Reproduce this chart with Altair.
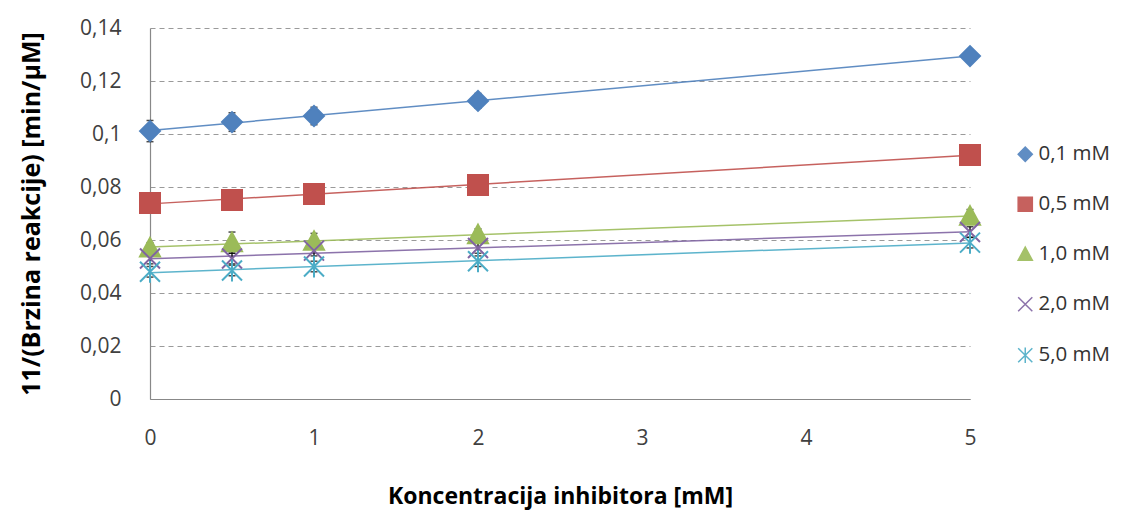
import altair as alt
import pandas as pd

# ---- data ----
x_vals = [0, 0.5, 1, 2, 5]
series_names = ["0,1 mM", "0,5 mM", "1,0 mM", "2,0 mM", "5,0 mM"]

y_01 = [0.1011, 0.1045, 0.1068, 0.1125, 0.1294]
y_05 = [0.0740, 0.0751, 0.0774, 0.0808, 0.0921]
y_10 = [0.0570, 0.0590, 0.0595, 0.0620, 0.0690]
y_20 = [0.0530, 0.0530, 0.0560, 0.0570, 0.0630]
y_50 = [0.0480, 0.0485, 0.0500, 0.0520, 0.0590]

e_01 = [0.0040, 0.0035, 0.0033, 0.0028, 0.0010]
e_05 = [0.0010, 0.0010, 0.0010, 0.0010, 0.0010]
e_10 = [0.0020, 0.0040, 0.0030, 0.0022, 0.0025]
e_20 = [0.0020, 0.0020, 0.0020, 0.0020, 0.0020]
e_50 = [0.0020, 0.0020, 0.0020, 0.0020, 0.0020]

x_ticks = [0, 1, 2, 3, 4, 5]
y_ticks = [0, 0.02, 0.04, 0.06, 0.08, 0.10, 0.12, 0.14]

colors = ["#4F81BD", "#C0504D", "#9BBB59", "#8064A2", "#4BACC6"]
shapes = ["diamond", "square", "M0,-1L1,0.85L-1,0.85Z",
          "M-1,-1L1,1M1,-1L-1,1",
          "M-1,-1L1,1M1,-1L-1,1M0,-1.1L0,1.1"]

x_title = "Koncentracija inhibitora [mM]"
y_title = "11/(Brzina reakcije) [min/µM]"

rows = []
for name, ys, es in zip(series_names, [y_01, y_05, y_10, y_20, y_50],
                        [e_01, e_05, e_10, e_20, e_50]):
    for xv, yv, ev in zip(x_vals, ys, es):
        rows.append({"series": name, "x": xv, "y": yv, "lo": yv - ev, "hi": yv + ev})
df = pd.DataFrame(rows)

FONT = "Open Sans"

xscale = alt.Scale(domain=[0, 5], nice=False, zero=False)
yscale = alt.Scale(domain=[0, 0.14], nice=False)
col_scale = alt.Scale(domain=series_names, range=colors)
shp_scale = alt.Scale(domain=series_names, range=shapes)

x_axis = alt.Axis(values=x_ticks, title=x_title, grid=False, ticks=False, labelFlush=False,
                  labelPadding=28, titlePadding=37, titleFontSize=23, format="d")
y_axis = alt.Axis(values=y_ticks, title=y_title, grid=True, ticks=False,
                  labelPadding=29, titlePadding=35, titleFontSize=25,
                  labelExpr="replace(format(datum.value, '.2~f'), '.', ',')")

X = lambda f: alt.X(f, type="quantitative", scale=xscale, axis=x_axis)
Y = lambda f: alt.Y(f, type="quantitative", scale=yscale, axis=y_axis)

leg = alt.Legend(title=None)
base = alt.Chart(df)

lines = base.transform_regression("x", "y", groupby=["series"]).mark_line(
    strokeWidth=1.5, opacity=0.9
).encode(
    x=X("x"),
    y=Y("y"),
    color=alt.Color("series:N", scale=col_scale, legend=leg),
)

err_rule = base.mark_rule(color="black", strokeWidth=1.3).encode(
    x=X("x"), y=Y("lo"), y2="hi:Q",
)
err_lo = base.mark_tick(color="black", orient="horizontal", size=7, thickness=1.5).encode(
    x=X("x"), y=Y("lo"),
)
err_hi = base.mark_tick(color="black", orient="horizontal", size=7, thickness=1.5).encode(
    x=X("x"), y=Y("hi"),
)

points = base.mark_point(filled=False, size=400, strokeWidth=2, opacity=1).encode(
    x=X("x"),
    y=Y("y"),
    color=alt.Color("series:N", scale=col_scale, legend=leg),
    fill=alt.Fill("series:N", scale=col_scale, legend=leg),
    shape=alt.Shape("series:N", scale=shp_scale, legend=leg),
)

chart = alt.layer(lines, err_rule, err_lo, err_hi, points).properties(
    width=820, height=371,
    padding={"left": 142, "top": 20, "right": 149, "bottom": 112},
    autosize=alt.AutoSizeParams(type="none"),
).configure_view(
    stroke=None
).configure_axis(
    labelFont=FONT, labelFontSize=21, labelColor="#404040",
    titleFont=FONT, titleFontWeight="bold", titleColor="#000000",
    domainColor="#888888", domainWidth=1.2,
    gridColor="#9a9a9a", gridDash=[5, 4], gridWidth=1.2,
).configure_legend(
    orient="none", legendX=865, legendY=116, padding=0,
    labelFont=FONT, labelFontSize=20.5, labelColor="#333333",
    symbolSize=200, symbolStrokeWidth=1.5, rowPadding=29, labelOffset=3,
)

chart.save("out.html", embed_options={"renderer": "svg", "actions": False})
